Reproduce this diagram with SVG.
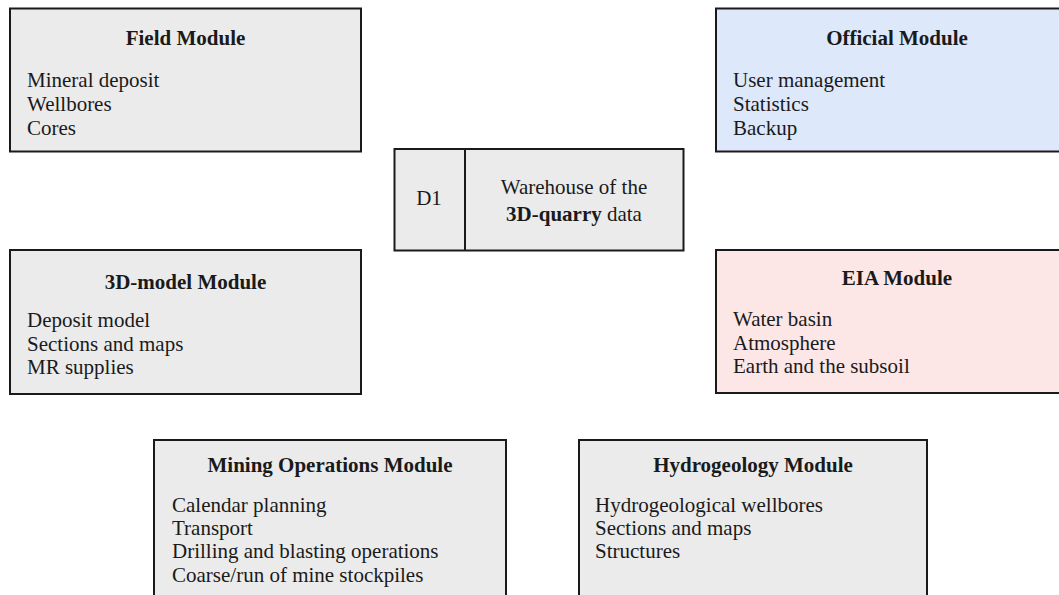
<svg xmlns="http://www.w3.org/2000/svg" width="1059" height="595" viewBox="0 0 1059 595">
<style>
.box{stroke:#1a1a1a;stroke-width:2}
.gray{fill:#ebebeb}
.blue{fill:#dde8fb}
.pink{fill:#fde6e6}
text{font-family:"Liberation Serif","Times New Roman",serif;font-size:21px;fill:#1a1a1a}
.title{font-weight:bold;text-anchor:middle}
.mid{text-anchor:middle}
</style>
<rect width="1059" height="595" fill="#ffffff"/>
<g id="connectors"></g>
<g id="field">
<rect class="box gray" x="10" y="8.5" width="351" height="143"/>
<text class="title" x="185.5" y="45">Field Module</text>
<text x="27" y="87">Mineral deposit</text>
<text x="27" y="111">Wellbores</text>
<text x="27" y="135">Cores</text>
</g>
<g id="official">
<rect class="box blue" x="716" y="8.5" width="362" height="143"/>
<text class="title" x="897" y="45">Official Module</text>
<text x="733" y="87">User management</text>
<text x="733" y="111">Statistics</text>
<text x="733" y="135">Backup</text>
</g>
<g id="d1">
<rect class="box gray" x="394.5" y="149" width="289" height="101.5"/>
<line class="box" x1="465" y1="149" x2="465" y2="250.5"/>
<text class="mid" x="429" y="205">D1</text>
<text class="mid" x="574" y="194">Warehouse of the</text>
<text class="mid" x="574" y="221"><tspan font-weight="bold">3D-quarry</tspan> data</text>
</g>
<g id="model3d">
<rect class="box gray" x="10" y="250" width="351" height="144"/>
<text class="title" x="185.5" y="289">3D-model Module</text>
<text x="27" y="327">Deposit model</text>
<text x="27" y="351">Sections and maps</text>
<text x="27" y="374">MR supplies</text>
</g>
<g id="eia">
<rect class="box pink" x="716" y="250" width="362" height="143"/>
<text class="title" x="897" y="285">EIA Module</text>
<text x="733" y="326">Water basin</text>
<text x="733" y="350">Atmosphere</text>
<text x="733" y="373">Earth and the subsoil</text>
</g>
<g id="mining">
<rect class="box gray" x="154" y="440" width="352" height="170"/>
<text class="title" x="330" y="472">Mining Operations Module</text>
<text x="172" y="512">Calendar planning</text>
<text x="172" y="535">Transport</text>
<text x="172" y="558">Drilling and blasting operations</text>
<text x="172" y="582">Coarse/run of mine stockpiles</text>
</g>
<g id="hydro">
<rect class="box gray" x="579" y="440" width="348" height="170"/>
<text class="title" x="753" y="472">Hydrogeology Module</text>
<text x="595" y="512">Hydrogeological wellbores</text>
<text x="595" y="535">Sections and maps</text>
<text x="595" y="558">Structures</text>
</g>
</svg>
